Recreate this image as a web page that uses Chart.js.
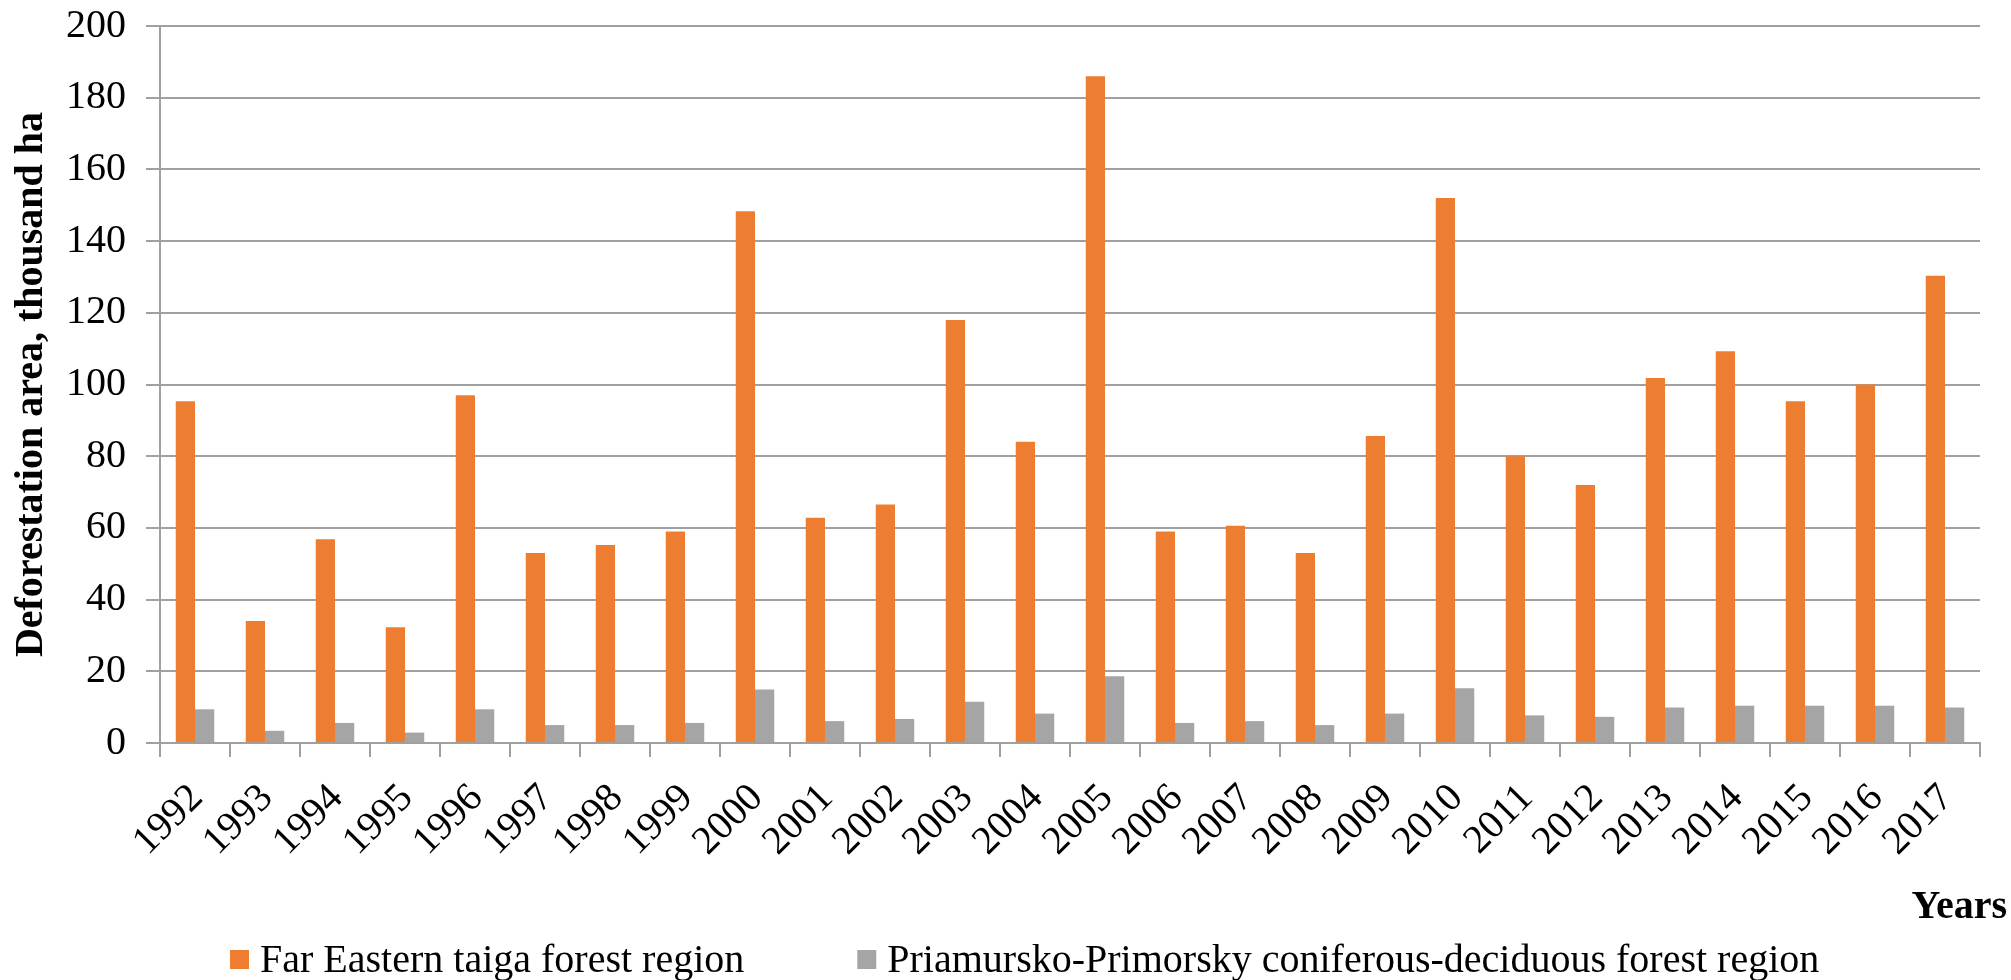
<!DOCTYPE html>
<html>
<head>
<meta charset="utf-8">
<script src="https://cdn.jsdelivr.net/npm/chart.js@4.4.1/dist/chart.umd.min.js"></script>
<style>
  html, body { margin: 0; padding: 0; background: #fff; }
  #wrap { width: 2011px; height: 980px; }
</style>
</head>
<body>
<div id="wrap"><canvas id="myChart" width="2011" height="980"></canvas></div>
<script>
const years = ['1992', '1993', '1994', '1995', '1996', '1997', '1998', '1999', '2000', '2001', '2002', '2003', '2004',
    '2005', '2006', '2007', '2008', '2009', '2010', '2011', '2012', '2013', '2014', '2015', '2016', '2017'];
const farEastern = [95.3, 34, 56.8, 32.3, 97, 53, 55.2, 59, 148.3, 62.8, 66.5, 118, 84,
    186, 59, 60.6, 53, 85.6, 152, 80, 72, 101.8, 109.3, 95.3, 100, 130.3];
const priamursko = [9.4, 3.4, 5.6, 2.9, 9.4, 5.0, 5.0, 5.6, 14.9, 6.1, 6.7, 11.5, 8.2,
    18.6, 5.6, 6.1, 5.0, 8.2, 15.3, 7.7, 7.3, 9.9, 10.4, 10.4, 10.4, 9.9];
const seriesNames = ['Far Eastern taiga forest region', 'Priamursko-Primorsky coniferous-deciduous forest region'];

const FONT = "'Liberation Serif', 'Times New Roman', serif";
const GRID = '#a0a0a0';

// legend + "Years" label drawn by hand (Excel-like spacing)
const extras = {
    id: 'extras',
    afterDraw(chart) {
        const c = chart.ctx;
        c.save();
        c.font = "40px " + FONT;
        c.textBaseline = 'alphabetic';
        c.textAlign = 'left';
        let x = 230;
        chart.data.datasets.forEach((ds, i) => {
            c.fillStyle = ds.backgroundColor;
            c.fillRect(x, 950, 19, 19);
            c.fillStyle = '#000';
            c.fillText(ds.label, x + 30, 972);
            x += 30 + c.measureText(ds.label).width + 113;
        });
        c.font = "bold 40px " + FONT;
        c.textAlign = 'right';
        c.fillText('Years', 2007, 918);
        c.restore();
    }
};

const ctx = document.getElementById('myChart');

new Chart(ctx, {
    type: 'bar',
    data: {
        labels: years,
        datasets: [{
            label: seriesNames[0],
            data: farEastern,
            backgroundColor: '#ed7d31',
        }, {
            label: seriesNames[1],
            data: priamursko,
            backgroundColor: '#a5a5a5',
        }]
    },
    options: {
        responsive: false,
        animation: false,
        layout: {padding: {top: 26, right: 31, bottom: 0, left: 0}},
        datasets: {bar: {categoryPercentage: 0.55, barPercentage: 1}},
        plugins: {
            legend: {display: false},
            tooltip: {enabled: false}
        },
        scales: {
            x: {
                grid: {drawOnChartArea: false, drawTicks: true, tickLength: 14, color: GRID, lineWidth: 2},
                border: {color: GRID, width: 2},
                ticks: {
                    color: '#000',
                    font: {family: FONT, size: 40},
                    minRotation: 45,
                    maxRotation: 45,
                    padding: 18,
                    labelOffset: 2,
                    autoSkip: false
                },
                afterFit: (scale) => { scale.height = 237; }
            },
            y: {
                min: 0,
                max: 200,
                grid: {color: GRID, lineWidth: 2, tickLength: 14},
                border: {color: GRID, width: 2},
                ticks: {
                    stepSize: 20,
                    color: '#000',
                    font: {family: FONT, size: 40},
                    padding: 20
                },
                title: {
                    display: true,
                    text: 'Deforestation area, thousand ha',
                    color: '#000',
                    font: {family: FONT, size: 40, weight: 'bold'},
                    padding: {top: 8, bottom: 0}
                },
                afterFit: (scale) => {
                    scale.width = 160;
                    scale.paddingTop = 0;
                    scale.paddingBottom = 0;
                }
            }
        }
    },
    plugins: [extras]
});
</script>
</body>
</html>
